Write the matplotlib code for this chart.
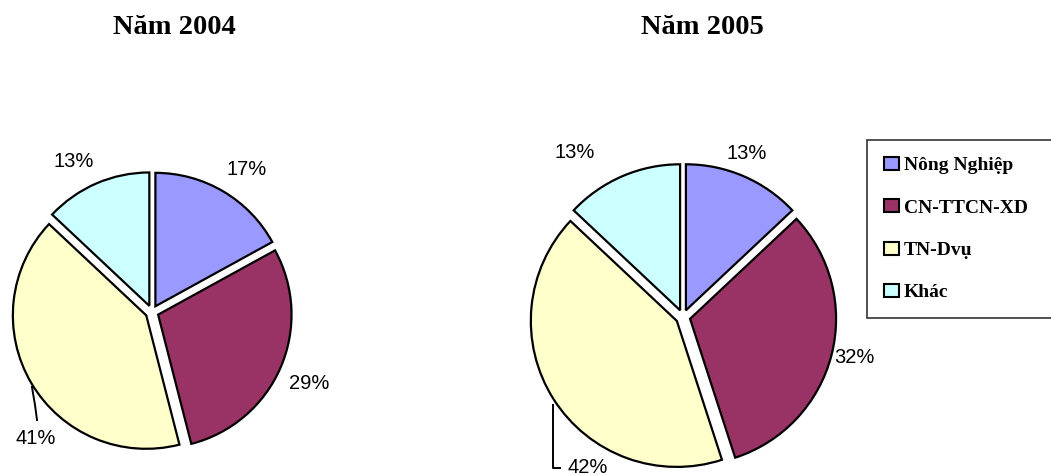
#!/usr/bin/env python3

import matplotlib
matplotlib.use('Agg')
import matplotlib.pyplot as plt
import matplotlib.patches as mpatches
import numpy as np

categories = ['Nông Nghiệp', 'CN-TTCN-XD', 'TN-Dvụ', 'Khác']
colors = ['#9999FF', '#993366', '#FFFFCC', '#CCFFFF']
years = ['Năm 2004', 'Năm 2005']
values2004 = [17, 29, 41, 13]
values2005 = [13, 32, 42, 13]

W, H = 1051, 475
fig = plt.figure(figsize=(W/100, H/100), dpi=100)


def pieAxes(cx, cy, r, lim=1.25):
    # cx, cy in pixels from top-left, r = pie radius in pixels
    left = (cx - lim*r)/W
    bottom = (H - cy - lim*r)/H
    ax = fig.add_axes([left, bottom, 2*lim*r/W, 2*lim*r/H])
    return ax, lim


def drawPie(ax, lim, values, labelDist, labelShift, leader):
    wedges, _ = ax.pie(values, colors=colors, startangle=90, counterclock=False,
                       explode=[0.05]*len(values),
                       wedgeprops=dict(edgecolor='black', linewidth=1.6))
    ax.set_xlim(-lim, lim)
    ax.set_ylim(-lim, lim)
    ax.set_aspect('equal')
    ax.axis('off')
    for w in wedges:
        w.set_clip_on(False)
    total = float(sum(values))
    start = 90.0
    for i, v in enumerate(values):
        mid = start - v/total*180.0
        start -= v/total*360.0
        txt = '%d%%' % v
        if leader[i] is None:
            ang = np.radians(mid + labelShift[i])
            x = labelDist[i]*np.cos(ang)
            y = labelDist[i]*np.sin(ang)
        else:
            pts = np.array(leader[i][0])
            ax.plot(pts[:, 0], pts[:, 1], color='black', lw=1.4, clip_on=False)
            x, y = leader[i][1]
        ax.text(x, y, txt, ha='center', va='center', fontsize=14.5,
                family='Liberation Sans', clip_on=False)


ax1, lim1 = pieAxes(152, 312, 133.4)
drawPie(ax1, lim1, values2004,
        labelDist=[1.28, 1.29, 1.3, 1.27],
        labelShift=[-3, -1, 10, 4],
        leader=[None, None,
                ([(-0.90, -0.562), (-0.877, -0.697), (-0.862, -0.81)], (-0.87, -0.945)),
                None])

ax2, lim2 = pieAxes(683, 317, 146)
drawPie(ax2, lim2, values2005,
        labelDist=[1.2, 1.21, 1.24, 1.35],
        labelShift=[2, 1, 12, 10],
        leader=[None, None,
                ([(-0.89, -0.603), (-0.89, -1.034), (-0.842, -1.034)], (-0.65, -1.03)),
                None])

fig.text(174/W, 1 - 27/H, years[0], ha='center', va='center', fontsize=20.5,
         fontweight='bold', family='Liberation Serif')
fig.text(702/W, 1 - 27/H, years[1], ha='center', va='center', fontsize=20.5,
         fontweight='bold', family='Liberation Serif')

handles = [mpatches.Patch(facecolor=c, edgecolor='black', linewidth=1.5)
           for c in colors]
leg = fig.legend(handles, categories, loc='upper left',
                 bbox_to_anchor=(867/W, 1 - 140/H, 200/W, 0), mode='expand',
                 prop={'family': 'Liberation Serif', 'weight': 'bold', 'size': 14},
                 frameon=True, fancybox=False, edgecolor='black',
                 handlelength=0.78, handleheight=0.65, handletextpad=0.25,
                 labelspacing=1.28, borderpad=0.88, borderaxespad=0)
leg.get_frame().set_linewidth(1.2)

fig.savefig('out.png', dpi=100)
